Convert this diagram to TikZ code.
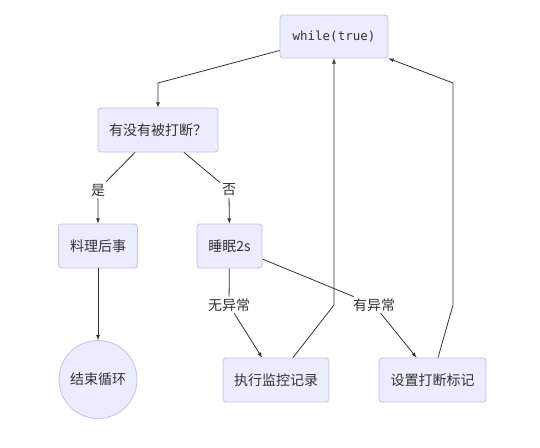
\documentclass[tikz,border=0pt]{standalone}
\usepackage{fontspec}
\newfontfamily\cjk{Noto Sans CJK SC}
\newfontfamily\codefont{DejaVu Sans Mono}
\definecolor{boxfill}{RGB}{236,236,255}
\definecolor{boxline}{RGB}{200,190,240}
\definecolor{ink}{RGB}{51,51,51}
\tikzset{
  flowbox/.style={draw=boxline,fill=boxfill,rounded corners=3pt,inner sep=0pt,
    text=ink,font=\cjk\fontsize{14}{16}\selectfont},
  endcirc/.style={circle,draw=boxline,fill=boxfill,inner sep=0pt,minimum size=78pt,
    text=ink,font=\cjk\fontsize{14}{16}\selectfont},
  edgelbl/.style={fill=white,inner sep=1.5pt,text=ink,font=\cjk\fontsize{14}{16}\selectfont}
}
\begin{document}
\begin{tikzpicture}[>=latex,x=1pt,y=1pt,line width=0.8pt]
\useasboundingbox (0,0) rectangle (540,-447);
\node[flowbox,minimum width=108pt,minimum height=43pt,font=\codefont\fontsize{12.5}{14}\selectfont] (w) at (334,-36.5){while(true)};
\node[flowbox,minimum width=120pt,minimum height=44pt] (q) at (158,-130){有没有被打断？};
\node[flowbox,minimum width=79pt,minimum height=44pt] (lw) at (98,-246){料理后事};
\node[flowbox,minimum width=65pt,minimum height=44pt] (sl) at (229.5,-246){睡眠2s};
\node[endcirc] (stop) at (98,-379.5){结束循环};
\node[flowbox,minimum width=106pt,minimum height=44pt] (rec) at (276,-380){执行监控记录};
\node[flowbox,minimum width=107pt,minimum height=44pt] (flag) at (432.5,-380){设置打断标记};

\node[edgelbl] (yes) at (98,-190){是};
\node[edgelbl] (no) at (229,-190){否};
\node[edgelbl] (noex) at (229,-305){无异常};
\node[edgelbl] (ex) at (374,-305){有异常};

\draw[->,ink] ([yshift=-14pt]w.west)--(158,-83)--(q);
\draw[->,ink] ([xshift=-23pt]q.south)--(yes)--(lw);
\draw[->,ink] ([xshift=26pt]q.south)--(no)--(sl);
\draw[->,ink] (lw)--(stop);
\draw[->,ink] (sl)--(noex)--([xshift=-14pt]rec.north);
\draw[->,ink] ([yshift=-13pt]sl.east)--(ex)--([xshift=-16pt]flag.north);
\draw[->,ink] ([xshift=17pt]rec.north)--(334,-305)--(w);
\draw[->,ink] ([xshift=5.5pt]flag.north)--(453,-305)--(453,-83)--(w.south east);
\end{tikzpicture}
\end{document}
